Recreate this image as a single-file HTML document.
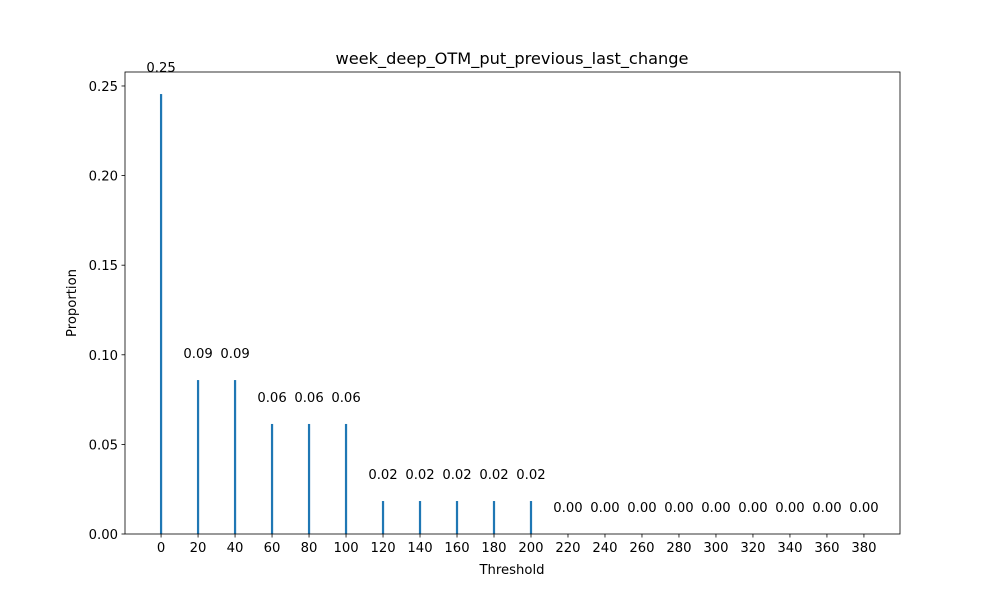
<!DOCTYPE html>
<html><head><meta charset="utf-8"><style>
body{margin:0;background:#fff;}
text{font-family:"DejaVu Sans","Liberation Sans",sans-serif;}
</style></head><body>
<svg id="chart" width="1000" height="600" xmlns="http://www.w3.org/2000/svg">
<rect width="1000" height="600" fill="#fff"/>
<text x="512" y="64" font-size="16.2" text-anchor="middle">week_deep_OTM_put_previous_last_change</text>
<g id="plot"></g>
<text x="512" y="574" font-size="13.2" text-anchor="middle">Threshold</text>
<text x="0" y="0" font-size="13.2" text-anchor="middle" transform="translate(76,303) rotate(-90)">Proportion</text>
</svg>
<script>
const categories=[0,20,40,60,80,100,120,140,160,180,200,220,240,260,280,300,320,340,360,380];
const values=[0.2455,0.0859,0.0859,0.0614,0.0614,0.0614,0.0184,0.0184,0.0184,0.0184,0.0184,0,0,0,0,0,0,0,0,0];
const yTicks=[0,0.05,0.10,0.15,0.20,0.25];
const yTickLabels=["0.00","0.05","0.10","0.15","0.20","0.25"];

const L=125,R=900,T=72,B=534;
const xMin=-19.5,xMax=399.5,yMin=0,yMax=0.2578;
const xs=v=>L+(v-xMin)/(xMax-xMin)*(R-L);
const ys=v=>B-(v-yMin)/(yMax-yMin)*(B-T);
const NS="http://www.w3.org/2000/svg";
const g=document.getElementById('plot');
function mk(tag,attrs){const e=document.createElementNS(NS,tag);for(const k in attrs)e.setAttribute(k,attrs[k]);g.appendChild(e);return e;}

categories.forEach((c,i)=>{
  const x0=xs(c-0.6),x1=xs(c+0.6);
  const r=mk('rect',{x:x0,y:ys(values[i]),width:Math.max(x1-x0,0.5),height:ys(0)-ys(values[i]),fill:'#1f77b4'});
  
  
  const t=mk('text',{x:xs(c),y:ys(values[i]+0.01)-4,'font-size':'13.2','text-anchor':'middle'});
  t.textContent=values[i].toFixed(2);
  
  
  const tk=mk('line',{x1:xs(c),x2:xs(c),y1:B,y2:B+3.5,stroke:'#000','stroke-width':0.8});
  
  
  const tl=mk('text',{x:xs(c),y:B+18,'font-size':'13.2','text-anchor':'middle'});
  tl.textContent=c;
  
  
});
yTicks.forEach((v,i)=>{
  const tk=mk('line',{x1:L-3.5,x2:L,y1:ys(v),y2:ys(v),stroke:'#000','stroke-width':0.8});
  
  
  const tl=mk('text',{x:L-7,y:ys(v)+5,'font-size':'13.2','text-anchor':'end'});
  tl.textContent=yTickLabels[i];
  
  
});
const fr=mk('rect',{x:L,y:T,width:R-L,height:B-T,fill:'none',stroke:'#000','stroke-width':0.8});


</script>
</body></html>
